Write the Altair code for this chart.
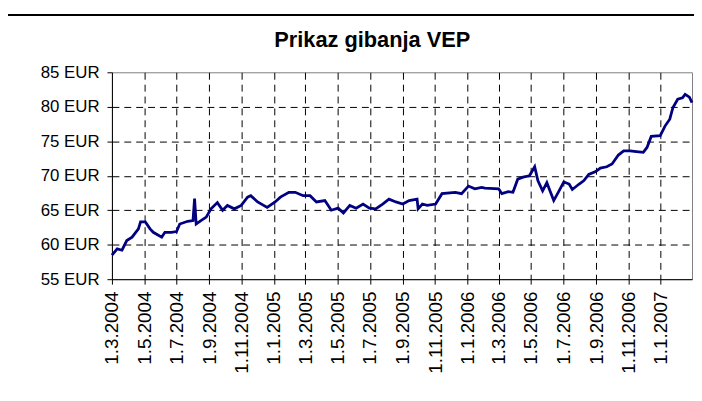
import altair as alt
import pandas as pd

dates = [
    "2004-03-01", "2004-03-11", "2004-03-20", "2004-03-29", "2004-04-08", "2004-04-20",
    "2004-04-24", "2004-05-03", "2004-05-12", "2004-05-18", "2004-06-03", "2004-06-09",
    "2004-06-21", "2004-07-01", "2004-07-07", "2004-07-22", "2004-08-01", "2004-08-04",
    "2004-08-07", "2004-08-16", "2004-08-26", "2004-09-04", "2004-09-16", "2004-09-26",
    "2004-10-05", "2004-10-18", "2004-10-31", "2004-11-12", "2004-11-18", "2004-12-01",
    "2004-12-19", "2005-01-03", "2005-01-13", "2005-01-29", "2005-02-10", "2005-02-25",
    "2005-03-10", "2005-03-22", "2005-04-07", "2005-04-19", "2005-05-02", "2005-05-12",
    "2005-05-24", "2005-06-05", "2005-06-18", "2005-06-30", "2005-07-12", "2005-07-25",
    "2005-08-06", "2005-08-19", "2005-09-01", "2005-09-13", "2005-09-28", "2005-09-30",
    "2005-10-08", "2005-10-17", "2005-11-02", "2005-11-14", "2005-12-09", "2005-12-21",
    "2006-01-03", "2006-01-15", "2006-01-28", "2006-02-03", "2006-03-01", "2006-03-07",
    "2006-03-19", "2006-03-28", "2006-04-06", "2006-04-16", "2006-04-28", "2006-05-08",
    "2006-05-14", "2006-05-23", "2006-05-31", "2006-06-06", "2006-06-13", "2006-06-23",
    "2006-07-02", "2006-07-12", "2006-07-18", "2006-07-31", "2006-08-09", "2006-08-18",
    "2006-08-31", "2006-09-09", "2006-09-21", "2006-10-01", "2006-10-13", "2006-10-23",
    "2006-11-04", "2006-11-16", "2006-11-29", "2006-12-06", "2006-12-14", "2006-12-31",
    "2007-01-09", "2007-01-18", "2007-01-24", "2007-02-02", "2007-02-11", "2007-02-16",
    "2007-02-24", "2007-03-01",
]
values = [
    58.5, 59.4, 59.2, 60.6, 61.1, 62.3,
    63.3, 63.3, 62.3, 61.8, 61.1, 61.8,
    61.8, 61.9, 63.0, 63.4, 63.5, 66.7,
    63.0, 63.5, 64.0, 65.2, 66.1, 65.0,
    65.7, 65.2, 65.7, 66.9, 67.1, 66.2,
    65.4, 66.2, 66.9, 67.6, 67.6, 67.1,
    67.1, 66.2, 66.4, 65.0, 65.3, 64.6,
    65.7, 65.3, 65.9, 65.3, 65.2, 65.9,
    66.6, 66.2, 65.9, 66.4, 66.6, 65.2,
    65.9, 65.7, 65.9, 67.4, 67.6, 67.4,
    68.5, 68.1, 68.3, 68.2, 68.1, 67.4,
    67.7, 67.6, 69.5, 69.8, 70.0, 71.3,
    69.3, 67.8, 69.0, 67.8, 66.4, 67.8,
    69.1, 68.8, 68.0, 68.8, 69.3, 70.2,
    70.6, 71.1, 71.3, 71.7, 73.0, 73.6,
    73.6, 73.5, 73.4, 74.1, 75.7, 75.8,
    77.2, 78.2, 79.9, 81.1, 81.3, 81.8,
    81.4, 80.6,
]

tick_months = [
    (2004, 3), (2004, 5), (2004, 7), (2004, 9), (2004, 11),
    (2005, 1), (2005, 3), (2005, 5), (2005, 7), (2005, 9), (2005, 11),
    (2006, 1), (2006, 3), (2006, 5), (2006, 7), (2006, 9), (2006, 11),
    (2007, 1),
]
y_ticks = [55, 60, 65, 70, 75, 80, 85]

df = pd.DataFrame({"date": dates, "value": values})

x_ticks = [alt.DateTime(year=y, month=m, date=1, utc=True) for y, m in tick_months]

x_enc = alt.X(
    "date:T",
    scale=alt.Scale(
        type="utc",
        domain=[alt.DateTime(year=2004, month=3, date=1, utc=True),
                alt.DateTime(year=2007, month=3, date=1, utc=True)],
        nice=False,
    ),
    axis=alt.Axis(
        values=x_ticks,
        labelExpr="utcFormat(datum.value, '%-d.%-m.%Y')",
        labelAngle=270,
        labelFontSize=19,
        labelPadding=7,
        tickSize=5,
        grid=True,
        gridColor="black",
        gridDash=[7, 5],
        gridOpacity={"condition": {"test": "datum.value <= utc(2004,2,1)", "value": 0}, "value": 1},
        title=None,
    ),
)

y_enc = alt.Y(
    "value:Q",
    scale=alt.Scale(domain=[55, 85], nice=False, zero=False),
    axis=alt.Axis(
        values=y_ticks,
        labelExpr="datum.value + ' EUR'",
        labelFontSize=17,
        labelPadding=8,
        tickSize=5,
        grid=True,
        gridColor="black",
        gridDash=[7, 5],
        gridOpacity={"condition": {"test": "datum.value >= 85 || datum.value <= 55", "value": 0}, "value": 1},
        title=None,
    ),
)

line = alt.Chart(df).mark_line(color="#000080", strokeWidth=2.8).encode(x=x_enc, y=y_enc)

left_border = alt.Chart(df).mark_rule(color="black", strokeWidth=1.5).encode(
    x=alt.value(-106), y=alt.value(-58), y2=alt.value(330)
)
top_border = alt.Chart(df).mark_rule(color="black", strokeWidth=1.5).encode(
    x=alt.value(-106), x2=alt.value(600), y=alt.value(-58)
)

chart = alt.layer(line, left_border, top_border).properties(
    width=586,
    height=209,
    padding={"left": 105, "top": 63, "right": 2, "bottom": 110},
    autosize=alt.AutoSizeParams(type="none"),
    title=alt.TitleParams(
        "Prikaz gibanja VEP",
        font="Liberation Sans",
        fontSize=22,
        fontWeight="bold",
        color="black",
        anchor="middle",
        frame="group",
        baseline="alphabetic",
        dx=-30,
        offset=-55,
    ),
).configure_axis(
    labelFont="Liberation Sans",
    labelColor="black",
    domainColor="black",
    tickColor="black",
    domainWidth=1,
).configure_view(
    stroke="#808080",
    strokeWidth=1,
)

chart.save("out.html", embed_options={"renderer": "svg", "actions": False})
